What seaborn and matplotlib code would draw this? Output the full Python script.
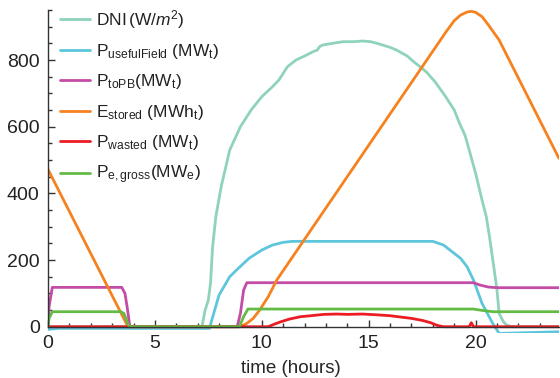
import pandas as pd
import matplotlib
matplotlib.use('Agg')
import matplotlib.pyplot as plt
from matplotlib.ticker import MultipleLocator
import seaborn as sns

# series (time in hours)
dni_t = [0, 7.2, 7.35, 7.5, 7.6, 7.7, 7.85, 8.1, 8.5, 9.0, 9.5, 10.0, 10.5, 10.8, 11.2, 11.6,
         12.0, 12.4, 12.6, 12.7, 12.85, 13.3, 13.8, 14.3, 14.7, 15.1, 15.5, 16.0, 16.3, 16.8,
         17.1, 17.4, 17.7, 18.1, 18.6, 19.0, 19.25, 19.5, 19.7, 20.0, 20.3, 20.5, 20.65, 20.85,
         21.0, 21.1, 21.3, 21.45, 21.7, 24]
dni_v = [0, 0, 50, 80, 130, 240, 330, 420, 530, 600, 650, 690, 720, 740, 780, 800,
         812, 825, 830, 840, 845, 850, 855, 855, 857, 855, 848, 838, 830, 812,
         795, 780, 764, 735, 690, 650, 610, 575, 530, 460, 380, 330, 270, 180,
         110, 40, 15, 5, 0, 0]

useful_t = [0, 0.5, 3.8, 7.55, 8.0, 8.5, 8.85, 9.4, 10.0, 10.5, 11.0, 11.4, 18.0, 18.5, 18.9,
            19.3, 19.6, 19.9, 20.3, 20.8, 21.1, 24]
useful_v = [-8, -5, -5, -5, 95, 150, 172, 205, 230, 245, 253, 256, 256, 245, 225,
            205, 180, 140, 70, 10, -20, -15]

topb_t = [0, 0.05, 0.2, 3.45, 3.6, 3.7, 3.83, 8.85, 9.0, 9.15, 9.3, 19.9, 20.2, 20.6, 21.0, 24]
topb_v = [0, 60, 118, 118, 100, 60, 0, 0, 40, 110, 132, 132, 125, 119, 117, 117]

stored_t = [0, 3.74, 8.97, 9.3, 9.6, 9.9, 10.3, 10.7, 18.6, 19.0, 19.3, 19.6, 19.8, 20.0,
            20.3, 20.6, 21.1, 23.9]
stored_v = [472, 0, 0, 10, 25, 50, 90, 140, 883, 918, 935, 944, 946, 943,
            930, 905, 860, 505]

wasted_t = [0, 10.3, 10.6, 10.9, 11.3, 11.8, 12.3, 12.9, 13.5, 14.0, 14.7, 15.3, 16.0, 16.5,
            17.0, 17.5, 17.9, 18.2, 18.5, 19.7, 19.8, 19.9, 24]
wasted_v = [0, 0, 8, 15, 23, 30, 33, 37, 38, 37, 38, 36, 33, 29,
            25, 19, 12, 4, 0, 0, 12, 0, 0]

gross_t = [0, 0.05, 0.2, 3.4, 3.55, 3.7, 3.8, 8.95, 9.15, 9.35, 19.9, 20.3, 20.8, 24]
gross_v = [0, 25, 45, 45, 40, 15, 0, 0, 30, 53, 53, 49, 45, 45]

labels = [
    r'DNI$\,$(W/$\mathit{m}^2$)',
    r'P$_{\mathrm{usefulField}}$ (MW$_{\mathrm{t}}$)',
    r'P$_{\mathrm{toPB}}$(MW$_{\mathrm{t}}$)',
    r'E$_{\mathrm{stored}}$ (MWh$_{\mathrm{t}}$)',
    r'P$_{\mathrm{wasted}}$ (MW$_{\mathrm{t}}$)',
    r'P$_{\mathrm{e,gross}}$(MW$_{\mathrm{e}}$)',
]
colors = ['#8ed3ba', '#5dc6dc', '#c24ca6', '#f5821f', '#ec1c24', '#63bb45']

series = [(dni_t, dni_v), (useful_t, useful_v), (topb_t, topb_v),
          (stored_t, stored_v), (wasted_t, wasted_v), (gross_t, gross_v)]
frames = []
for lab, (t, v) in zip(labels, series):
    frames.append(pd.DataFrame({'time': t, 'value': v, 'series': lab}))
df = pd.concat(frames, ignore_index=True)

sns.set_style('ticks')
plt.rcParams['font.family'] = ['Liberation Sans', 'DejaVu Sans']
plt.rcParams['mathtext.fontset'] = 'custom'
plt.rcParams['mathtext.rm'] = 'Liberation Sans'
plt.rcParams['mathtext.it'] = 'Liberation Sans:italic'
plt.rcParams['text.color'] = '#222222'

fig = plt.figure(figsize=(5.6, 3.78), dpi=100)
ax = fig.add_axes([0.0857, 0.1198, 0.9125, 0.8537])

sns.lineplot(data=df, x='time', y='value', hue='series', palette=dict(zip(labels, colors)),
             hue_order=labels, estimator=None, sort=False, linewidth=2, ax=ax)

ax.set_xlim(0, 23.9)
ax.set_ylim(-18, 950)
ax.spines['top'].set_visible(False)
ax.spines['right'].set_visible(False)
ax.spines['bottom'].set_position(('data', 0))
ax.spines['left'].set_bounds(0, 950)
for s in ['left', 'bottom']:
    ax.spines[s].set_color('#333333')
    ax.spines[s].set_linewidth(1)

ax.xaxis.set_major_locator(MultipleLocator(5))
ax.xaxis.set_minor_locator(MultipleLocator(1))
ax.yaxis.set_major_locator(MultipleLocator(200))
ax.yaxis.set_minor_locator(MultipleLocator(50))
ax.tick_params(which='major', direction='in', length=5, width=1, color='#333333',
               labelsize=14, labelcolor='#222222', pad=6)
ax.tick_params(which='minor', direction='in', length=3, width=1, color='#333333')

ax.set_ylabel('')
ax.set_xlabel('time (hours)', fontsize=13.5)
ax.xaxis.set_label_coords(0.475, -0.085)

ax.legend(loc='upper left', bbox_to_anchor=(0.0, 1.045), frameon=False, fontsize=12.5,
          handlelength=1.7, handletextpad=0.35, labelspacing=0.66, borderaxespad=0.3)

plt.savefig('out.png', dpi=100)
